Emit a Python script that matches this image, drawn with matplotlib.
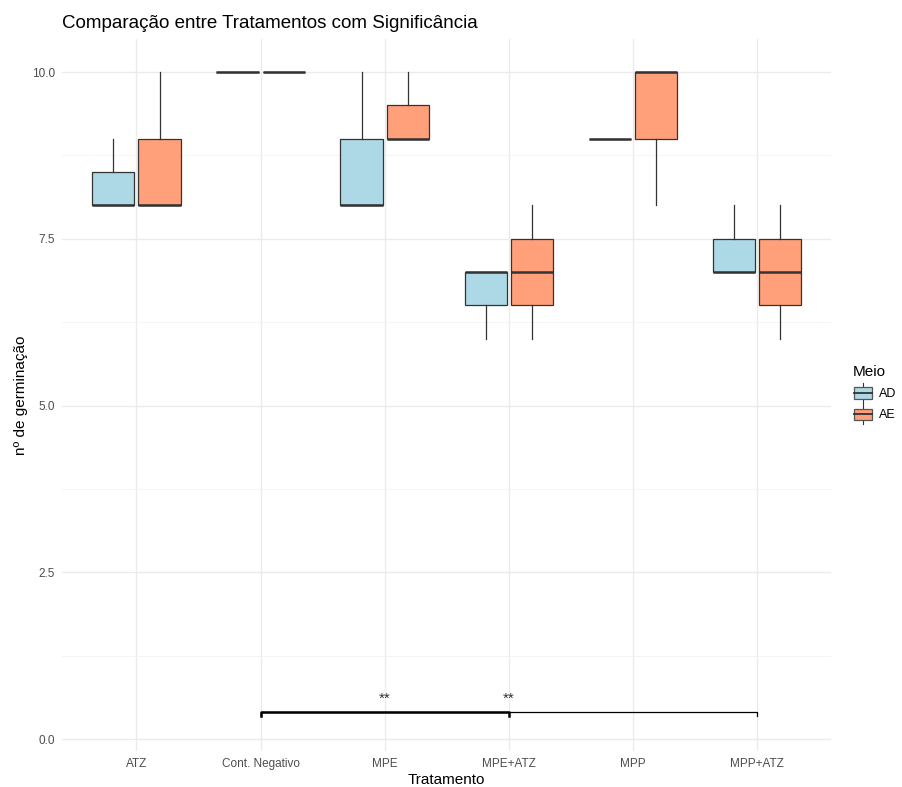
import numpy as np
import matplotlib.pyplot as plt
from matplotlib.patches import Rectangle
from matplotlib.lines import Line2D
from matplotlib.legend_handler import HandlerBase

plt.rcParams['font.family'] = ['Liberation Sans', 'DejaVu Sans']

tratamentos = ["ATZ", "Cont. Negativo", "MPE", "MPE+ATZ", "MPP", "MPP+ATZ"]
meios = ["AD", "AE"]
cores = {"AD": "#ADD8E6", "AE": "#FFA07A"}

# resumo de cada caixa: minimo, Q1, mediana, Q3, maximo
ad_min = [8, 10, 8, 6, 9, 7]
ad_q1 = [8, 10, 8, 6.5, 9, 7]
ad_med = [8, 10, 8, 7, 9, 7]
ad_q3 = [8.5, 10, 9, 7, 9, 7.5]
ad_max = [9, 10, 10, 7, 9, 8]

ae_min = [8, 10, 9, 6, 8, 6]
ae_q1 = [8, 10, 9, 6.5, 9, 6.5]
ae_med = [8, 10, 9, 7, 10, 7]
ae_q3 = [9, 10, 9.5, 7.5, 10, 7.5]
ae_max = [10, 10, 10, 8, 10, 8]

# comparacoes significativas (grupo 1, grupo 2, rotulo)
comparacoes = [("Cont. Negativo", "MPE+ATZ", "**"), ("Cont. Negativo", "MPP+ATZ", "**")]
y_barra = 0.4


def monta_stats(mn, q1, med, q3, mx):
    stats = []
    for i in range(len(mn)):
        stats.append({"whislo": mn[i], "q1": q1[i], "med": med[i],
                      "q3": q3[i], "whishi": mx[i], "fliers": []})
    return stats


class HandlerCaixa(HandlerBase):
    def create_artists(self, legend, orig_handle, xd, yd, w, h, fontsize, trans):
        cor = orig_handle.get_facecolor()
        x0, y0 = -xd, -yd
        ret = Rectangle((x0 + 1, y0 + h * 0.12), w - 2, h * 0.76, facecolor=cor,
                        edgecolor="#555555", lw=0.9, transform=trans)
        med = Line2D([x0 + 1, x0 + w - 1], [y0 + h / 2] * 2, color="#333333", lw=1.3, transform=trans)
        cima = Line2D([x0 + w / 2] * 2, [y0 + h * 0.88, y0 + h * 1.15], color="#333333", lw=0.8, transform=trans)
        baixo = Line2D([x0 + w / 2] * 2, [y0 - h * 0.15, y0 + h * 0.12], color="#333333", lw=0.8, transform=trans)
        return [cima, baixo, ret, med]


fig = plt.figure(figsize=(9.02, 7.87), dpi=100)
ax = fig.add_axes([0.0687, 0.0457, 0.853, 0.9043])

x = np.arange(1, len(tratamentos) + 1)
desloc = 0.186
largura = 0.34

todos = {"AD": monta_stats(ad_min, ad_q1, ad_med, ad_q3, ad_max),
         "AE": monta_stats(ae_min, ae_q1, ae_med, ae_q3, ae_max)}

for k, meio in enumerate(meios):
    pos = x + (-desloc if k == 0 else desloc)
    ax.bxp(todos[meio], positions=pos, widths=largura, patch_artist=True,
           showcaps=False, showfliers=False,
           boxprops=dict(facecolor=cores[meio], edgecolor="#333333", lw=0.9),
           whiskerprops=dict(color="#333333", lw=0.9),
           medianprops=dict(color="#333333", lw=1.8, solid_capstyle="butt"),
           manage_ticks=False, zorder=3)

# barras de significancia
for j, (g1, g2, rot) in enumerate(comparacoes):
    x1 = tratamentos.index(g1) + 1
    x2 = tratamentos.index(g2) + 1
    ax.plot([x1, x1, x2, x2], [y_barra - 0.06, y_barra, y_barra, y_barra - 0.06],
            color="black", lw=1.8 if j == 0 else 0.9, zorder=4 - j)
    ax.text((x1 + x2) / 2, y_barra + 0.1, rot, ha="center", va="bottom",
            fontsize=11, color="#333333")

ax.set_xlim(0.4, 6.6)
ax.set_ylim(-0.18, 10.49)
ax.set_xticks(x)
ax.set_xticklabels(tratamentos)
ax.set_yticks([0, 2.5, 5, 7.5, 10])
ax.set_yticklabels(["0.0", "2.5", "5.0", "7.5", "10.0"])
ax.set_yticks([1.25, 3.75, 6.25, 8.75], minor=True)

ax.grid(True, which="major", color="#EBEBEB", lw=1.0)
ax.grid(True, which="minor", axis="y", color="#F3F3F3", lw=0.6)
ax.set_axisbelow(True)
for s in ax.spines.values():
    s.set_visible(False)
ax.tick_params(which="both", length=0, labelsize=8.5, labelcolor="#4D4D4D", pad=5)

ax.set_xlabel("Tratamento", fontsize=11, labelpad=2)
ax.set_ylabel("nº de germinação", fontsize=11, labelpad=3)
ax.set_title("Comparação entre Tratamentos com Significância", fontsize=13.5,
             loc="left", x=0.0, pad=8)

handles = [Rectangle((0, 0), 1, 1, facecolor=cores[m]) for m in meios]
fig.legend(handles, meios, title="Meio", loc="center left",
           bbox_to_anchor=(0.945, 0.5), frameon=False, fontsize=9,
           title_fontsize=11, handler_map={Rectangle: HandlerCaixa()},
           handlelength=1.7, handleheight=1.5, handletextpad=0.4,
           labelspacing=0.5, borderpad=0, borderaxespad=0, alignment="left")

fig.savefig("out.png", dpi=100)
